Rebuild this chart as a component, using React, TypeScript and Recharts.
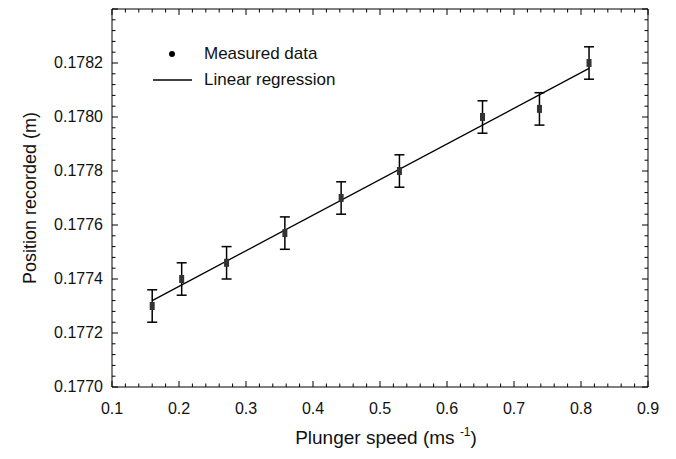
import React from 'react';
import { ScatterChart, Scatter, XAxis, YAxis, ErrorBar, Legend } from 'recharts';

// measured points
const speed = [0.16, 0.204, 0.271, 0.358, 0.442, 0.529, 0.653, 0.738, 0.812];
const position = [0.1773, 0.1774, 0.17746, 0.17757, 0.1777, 0.1778, 0.178, 0.17803, 0.1782];
const positionErr = [0.00006, 0.00006, 0.00006, 0.00006, 0.00006, 0.00006, 0.00006, 0.00006, 0.00006];

// regression line end points
const fitSpeed = [0.16, 0.812];
const fitPosition = [0.17732, 0.17818];

const xMajor = [0.1, 0.2, 0.3, 0.4, 0.5, 0.6, 0.7, 0.8, 0.9];
const yMajor = [0.177, 0.1772, 0.1774, 0.1776, 0.1778, 0.178, 0.1782, 0.1784];
const yLabelled = [0.177, 0.1772, 0.1774, 0.1776, 0.1778, 0.178, 0.1782];

const FONT = '"Liberation Sans", Arial, Helvetica, sans-serif';

const subdivide = (majors: number[], parts: number, digits: number) => {
  const out: number[] = [];
  for (let i = 0; i < majors.length - 1; i++) {
    const step = (majors[i + 1] - majors[i]) / parts;
    for (let j = 0; j < parts; j++) out.push(Number((majors[i] + j * step).toFixed(digits)));
  }
  out.push(majors[majors.length - 1]);
  return out;
};

const xTicks = subdivide(xMajor, 5, 3);
const yTicks = subdivide(yMajor, 5, 6);

const measured = speed.map((s, i) => ({ x: s, y: position[i], err: positionErr[i] }));
const fit = fitSpeed.map((s, i) => ({ x: s, y: fitPosition[i] }));

const inList = (v: number, list: number[]) => list.some((m) => Math.abs(m - v) < 1e-9);

const BottomTick = (props: any) => {
  const { x, y, payload } = props;
  const major = inList(payload.value, xMajor);
  return (
    <g>
      <line x1={x} y1={y} x2={x} y2={y - (major ? 6 : 3.5)} stroke="#000" />
      {major && (
        <text x={x} y={y + 27} textAnchor="middle" fontSize={16} fill="#111" fontFamily={FONT}>
          {payload.value.toFixed(1)}
        </text>
      )}
    </g>
  );
};

const TopTick = (props: any) => {
  const { x, y, payload } = props;
  const major = inList(payload.value, xMajor);
  return <line x1={x} y1={y} x2={x} y2={y + (major ? 6 : 3.5)} stroke="#000" />;
};

const LeftTick = (props: any) => {
  const { x, y, payload } = props;
  const major = inList(payload.value, yMajor);
  return (
    <g>
      <line x1={x} y1={y} x2={x + (major ? 6 : 3.5)} y2={y} stroke="#000" />
      {inList(payload.value, yLabelled) && (
        <text x={x - 9} y={y} dy="0.3em" textAnchor="end" fontSize={16} fill="#111" fontFamily={FONT}>
          {payload.value.toFixed(4)}
        </text>
      )}
    </g>
  );
};

const RightTick = (props: any) => {
  const { x, y, payload } = props;
  const major = inList(payload.value, yMajor);
  return <line x1={x} y1={y} x2={x - (major ? 6 : 3.5)} y2={y} stroke="#000" />;
};

const XTitle = (props: any) => {
  const { viewBox } = props;
  const cx = viewBox.x + viewBox.width / 2 + 6;
  return (
    <text x={cx} y={viewBox.y + 57} textAnchor="middle" fontSize={19} fill="#111" fontFamily={FONT}>
      Plunger speed (ms{' '}
      <tspan dy={-8} fontSize={12}>-1</tspan>
      <tspan dy={8}>)</tspan>
    </text>
  );
};

const YTitle = () => (
  <text
    x={30}
    y={198}
    transform="rotate(-90 30 198)"
    textAnchor="middle"
    dominantBaseline="central"
    fontSize={18}
    fill="#111"
    fontFamily={FONT}
  >
    Position recorded (m)
  </text>
);

const Marker = (props: any) => {
  const { cx, cy } = props;
  return <rect x={cx - 2.5} y={cy - 4} width={5} height={8} fill="#333" />;
};

const NoShape = () => <g />;

const LegendBox = () => (
  <div style={{ fontFamily: FONT, fontSize: 17, color: '#111' }}>
    <div style={{ display: 'flex', alignItems: 'center', height: 26 }}>
      <svg width={54} height={26}>
        <circle cx={22} cy={13} r={3} fill="#000" />
      </svg>
      <span>Measured data</span>
    </div>
    <div style={{ display: 'flex', alignItems: 'center', height: 26 }}>
      <svg width={54} height={26}>
        <line x1={3} y1={13} x2={42} y2={13} stroke="#000" strokeWidth={1.3} />
      </svg>
      <span>Linear regression</span>
    </div>
  </div>
);

export default function App() {
  return (
    <div style={{ position: 'absolute', left: 0, top: 0, width: 676, height: 459, background: '#fff' }}>
      <ScatterChart width={676} height={459} margin={{ top: 8, right: 27, bottom: 42, left: 52 }}>
        <XAxis
          xAxisId="bottom"
          type="number"
          dataKey="x"
          domain={[0.1, 0.9]}
          ticks={xTicks}
          interval={0}
          allowDataOverflow
          height={30}
          tickSize={0}
          tickMargin={0}
          tick={<BottomTick />}
          axisLine={{ stroke: '#000' }}
          label={<XTitle />}
        />
        <XAxis
          xAxisId="top"
          orientation="top"
          type="number"
          dataKey="x"
          domain={[0.1, 0.9]}
          ticks={xTicks}
          interval={0}
          allowDataOverflow
          height={1}
          tickSize={0}
          tickMargin={0}
          tick={<TopTick />}
          axisLine={{ stroke: '#000' }}
        />
        <YAxis
          yAxisId="left"
          type="number"
          dataKey="y"
          domain={[0.177, 0.1784]}
          ticks={yTicks}
          interval={0}
          allowDataOverflow
          width={60}
          tickSize={0}
          tickMargin={0}
          tick={<LeftTick />}
          axisLine={{ stroke: '#000' }}
          label={<YTitle />}
        />
        <YAxis
          yAxisId="right"
          orientation="right"
          type="number"
          dataKey="y"
          domain={[0.177, 0.1784]}
          ticks={yTicks}
          interval={0}
          allowDataOverflow
          width={1}
          tickSize={0}
          tickMargin={0}
          tick={<RightTick />}
          axisLine={{ stroke: '#000' }}
        />
        <Legend
          layout="vertical"
          align="center"
          verticalAlign="middle"
          wrapperStyle={{ left: 150, top: 41, width: 'auto', height: 'auto' }}
          content={<LegendBox />}
        />
        <Scatter
          xAxisId="bottom"
          yAxisId="left"
          data={fit}
          line={{ stroke: '#000', strokeWidth: 1.3 }}
          shape={<NoShape />}
          isAnimationActive={false}
        />
        <Scatter
          xAxisId="bottom"
          yAxisId="left"
          data={measured}
          shape={<Marker />}
          isAnimationActive={false}
        >
          <ErrorBar dataKey="err" direction="y" width={5} stroke="#000" strokeWidth={1.5} isAnimationActive={false} />
        </Scatter>
        <Scatter
          xAxisId="top"
          yAxisId="right"
          data={fit}
          shape={<NoShape />}
          isAnimationActive={false}
        />
      </ScatterChart>
    </div>
  );
}
